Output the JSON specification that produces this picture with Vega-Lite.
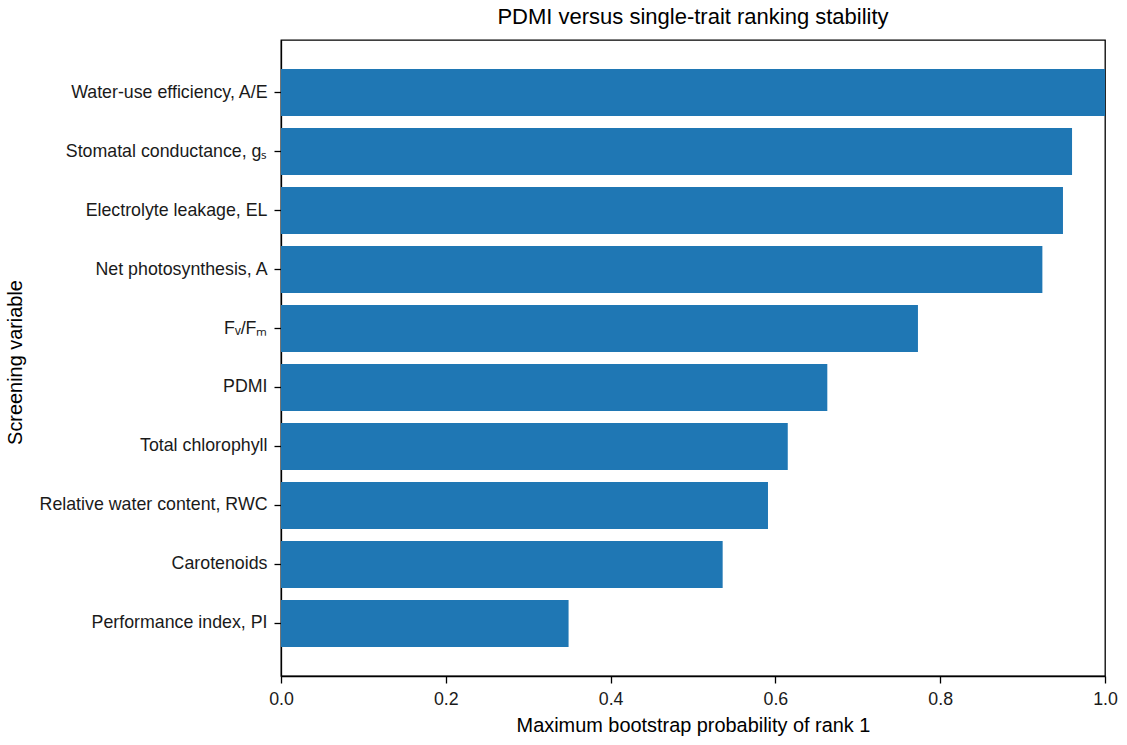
{
  "$schema": "https://vega.github.io/schema/vega-lite/v6.json",
  "autosize": {"type": "none"},
  "width": 824,
  "height": 636,
  "padding": {"left": 281, "top": 40, "right": 22, "bottom": 69},
  "background": "white",
  "title": {
    "text": "PDMI versus single-trait ranking stability",
    "font": "Liberation Sans",
    "fontSize": 22,
    "fontWeight": "normal",
    "color": "#000000",
    "offset": 11
  },
  "config": {
    "view": {"stroke": "#000000", "strokeWidth": 1.3},
    "axis": {
      "labelFont": "Liberation Sans",
      "titleFont": "Liberation Sans",
      "labelFontSize": 17.8,
      "titleFontSize": 19.9,
      "titleFontWeight": "normal",
      "labelColor": "#1a1a1a",
      "titleColor": "#000000",
      "tickColor": "#000000",
      "domainColor": "#000000",
      "tickSize": 7,
      "tickWidth": 1.3,
      "domainWidth": 1.3,
      "grid": false
    }
  },
  "data": {
    "values": [
      {"variable": "Water-use efficiency, A/E", "prob": 1.0},
      {"variable": "Stomatal conductance, gₛ", "prob": 0.960},
      {"variable": "Electrolyte leakage, EL", "prob": 0.949},
      {"variable": "Net photosynthesis, A", "prob": 0.924},
      {"variable": "Fᵥ/Fₘ", "prob": 0.773},
      {"variable": "PDMI", "prob": 0.663},
      {"variable": "Total chlorophyll", "prob": 0.615},
      {"variable": "Relative water content, RWC", "prob": 0.591},
      {"variable": "Carotenoids", "prob": 0.536},
      {"variable": "Performance index, PI", "prob": 0.349}
    ]
  },
  "mark": {"type": "bar", "color": "#1f77b4"},
  "encoding": {
    "y": {
      "field": "variable",
      "type": "nominal",
      "sort": null,
      "scale": {"paddingInner": 0.2, "paddingOuter": 0.49},
      "axis": {
        "title": "Screening variable",
        "labelPadding": 7,
        "titleX": -256,
        "titleY": 322,
        "titleAngle": -90,
        "titleAlign": "center",
        "titleBaseline": "bottom",
        "labelLimit": 400
      }
    },
    "x": {
      "field": "prob",
      "type": "quantitative",
      "scale": {"domain": [0, 1], "nice": false},
      "axis": {
        "title": "Maximum bootstrap probability of rank 1",
        "values": [0, 0.2, 0.4, 0.6, 0.8, 1.0],
        "format": ".1f",
        "labelFlush": false,
        "labelPadding": 7,
        "titlePadding": 8
      }
    }
  }
}
